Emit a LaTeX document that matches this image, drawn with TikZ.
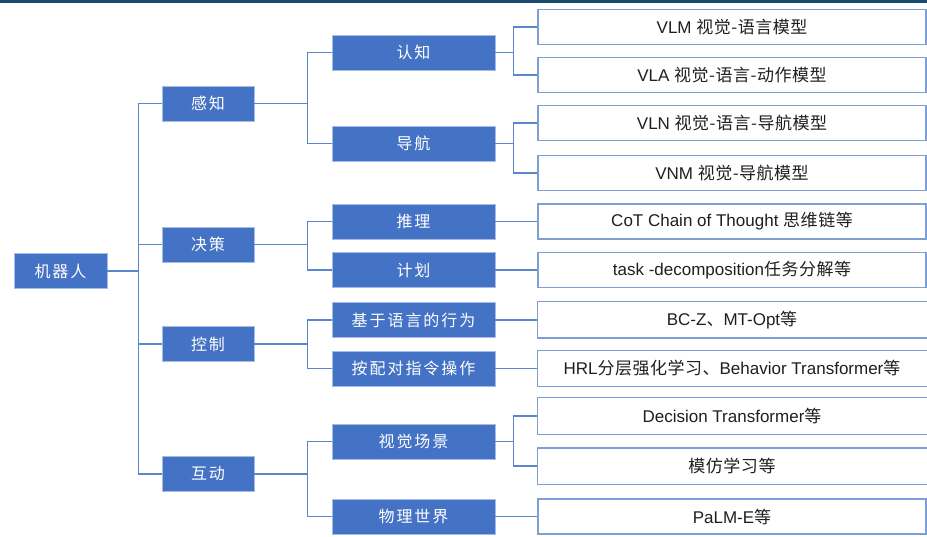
\documentclass[tikz,border=0pt]{standalone}
\usepackage{fontspec}
\setmainfont{Liberation Sans}
\newfontfamily\zhfont[LetterSpace=3]{Noto Sans CJK SC}
\newfontfamily\zhwide[LetterSpace=12]{Noto Sans CJK SC}
\newcommand{\zh}[1]{{\zhfont #1}}
\definecolor{treeblue}{HTML}{4472C4}
\definecolor{treeline}{HTML}{5A86CC}
\definecolor{treeedge}{HTML}{A4BCE6}
\definecolor{leafedge}{HTML}{7F9ED6}
\definecolor{topbar}{HTML}{174A6E}
\tikzset{
  blue box/.style={rectangle,fill=treeblue,draw=treeedge,line width=0.8pt,
    text=white,minimum height=35pt,inner sep=0pt,
    font=\zhwide\fontsize{16}{18}\selectfont},
  root box/.style={blue box,minimum width=93pt},
  first box/.style={blue box,minimum width=92pt},
  second box/.style={blue box,minimum width=163pt},
  leaf box/.style={rectangle,fill=white,draw=leafedge,line width=1.1pt,
    text=black!88,minimum width=388pt,minimum height=35pt,inner sep=0pt,
    font=\fontsize{17}{20}\selectfont},
  open leaf/.style={leaf box,draw=none},
  link/.style={draw=treeline,line width=1.8pt},
  leaf line/.style={draw=leafedge,line width=1.1pt}
}

\begin{document}
\begin{tikzpicture}[x=1pt,y=-1pt]
  \useasboundingbox (0,0) rectangle (927,537);
  \fill[topbar] (0,0) rectangle (927,3);
  % root and first level
  \node[root box] (robot) at (60.5,271) {机器人};
  \foreach \n/\y/\t in {perc/103.5/感知, deci/244.5/决策, ctrl/344/控制, inter/474/互动}
    \node[first box] (\n) at (208,\y) {\t};
  % second level
  \foreach \n/\y/\t in {cog/52.5/认知, nav/143.5/导航, reas/221.5/推理, plan/270/计划,
      lang/320/基于语言的行为, match/368.5/按配对指令操作, scene/441.5/视觉场景, phys/516.5/物理世界}
    \node[second box] (\n) at (413.5,\y) {\t};
  % leaves
  \foreach \n/\y/\t in {vlm/27/{VLM \zh{视觉-语言模型}}, vla/75/{VLA \zh{视觉-语言-动作模型}},
      vln/123/{VLN \zh{视觉-语言-导航模型}}, vnm/173/{VNM \zh{视觉-导航模型}},
      cot/221.5/{CoT Chain of Thought \zh{思维链等}}, task/270/{task -decomposition\zh{任务分解等}},
      palm/516.5/{PaLM-E\zh{等}}}
    \node[leaf box] (\n) at (732,\y) {\t};
  \foreach \n/\y/\t in {bcz/320/{BC-Z\zh{、}MT-Opt\zh{等}},
      hrl/368.5/{HRL\zh{分层强化学习、}Behavior Transformer\zh{等}},
      dt/416/{Decision Transformer\zh{等}}, imit/466/{\zh{模仿学习等}}}
    \node[open leaf] (\n) at (732,\y) {\t};
  \foreach \n in {bcz,hrl,dt,imit}
    \draw[leaf line] ([xshift=20pt]\n.north east) -- (\n.north west)
      -- (\n.south west) -- ([xshift=20pt]\n.south east);
  % connectors
  \foreach \c in {perc,deci,ctrl,inter}
    \draw[link] (robot.east) -- ++(31,0) |- (\c.west);
  \foreach \p/\c in {perc/cog, perc/nav, deci/reas, deci/plan, ctrl/lang, ctrl/match,
      inter/scene, inter/phys}
    \draw[link] (\p.east) -- ++(53,0) |- (\c.west);
  \foreach \p/\c in {cog/vlm, cog/vla, nav/vln, nav/vnm, reas/cot, plan/task, lang/bcz,
      match/hrl, scene/dt, scene/imit, phys/palm}
    \draw[link] (\p.east) -- ++(18,0) |- (\c.west);
\end{tikzpicture}
\end{document}
